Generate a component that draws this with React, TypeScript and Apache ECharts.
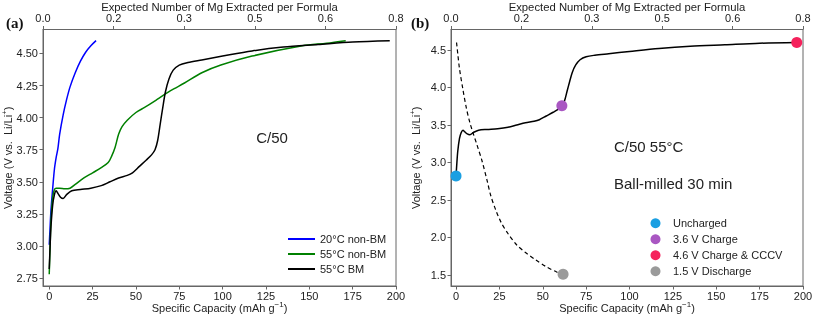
import React, { useEffect, useRef } from "react";
import * as echarts from "echarts";

// ---------- data ----------
const CAPACITY_TICKS = [0, 25, 50, 75, 100, 125, 150, 175, 200];
const VOLT_TICKS_A = [2.75, 3.0, 3.25, 3.5, 3.75, 4.0, 4.25, 4.5];
const VOLT_TICKS_B = [1.5, 2.0, 2.5, 3.0, 3.5, 4.0, 4.5];
const TOP_TICK_LABELS = ["0.0", "0.2", "0.3", "0.5", "0.6", "0.8"];

// [specific capacity (mAh/g), voltage (V)]
const BLUE_20C_NONBM: number[][] = [
  [0, 3.01], [0.5, 3.15], [1, 3.28], [2, 3.45], [3, 3.6], [4, 3.69], [5, 3.76],
  [6, 3.87], [8, 4.02], [10, 4.14], [12, 4.24], [15, 4.35], [18, 4.44],
  [21, 4.51], [24, 4.56], [27, 4.6],
];
const GREEN_55C_NONBM: number[][] = [
  [0, 2.78], [0.5, 3.0], [1, 3.2], [2, 3.38], [3, 3.44], [4, 3.45], [6, 3.45],
  [9, 3.445], [12, 3.45], [15, 3.48], [20, 3.53], [25, 3.57], [30, 3.61],
  [34, 3.65], [36, 3.7], [38, 3.77], [40, 3.87], [42, 3.93], [45, 3.98],
  [50, 4.04], [55, 4.08], [62, 4.14], [70, 4.21], [78, 4.27], [88, 4.35],
  [99, 4.41], [117, 4.48], [146, 4.56], [160, 4.58], [171, 4.6],
];
const BLACK_55C_BM: number[][] = [
  [0, 2.82], [0.5, 3.0], [1, 3.15], [2, 3.32], [3, 3.4], [4, 3.43], [5, 3.41],
  [6.5, 3.38], [8, 3.37], [10, 3.4], [13, 3.43], [18, 3.44], [24, 3.45],
  [30, 3.47], [35, 3.5], [40, 3.53], [45, 3.55], [48, 3.57], [52, 3.62],
  [56, 3.67], [59, 3.71], [61, 3.75], [62.5, 3.82], [64, 3.95], [65.5, 4.08],
  [67, 4.2], [69, 4.3], [71.5, 4.37], [75, 4.41], [80, 4.43], [88, 4.45],
  [100, 4.48], [117, 4.52], [135, 4.55], [155, 4.57], [175, 4.59], [196.4, 4.6],
];
const DISCHARGE_1_5V: number[][] = [
  [0.3, 4.6], [1, 4.45], [2, 4.25], [4, 3.97], [6, 3.72], [8, 3.53], [10, 3.38],
  [12, 3.24], [15, 3.02], [18, 2.75], [20, 2.56], [23, 2.36], [26, 2.2],
  [30, 2.05], [35, 1.9], [40, 1.8], [46, 1.7], [52, 1.61], [58, 1.54], [61.7, 1.51],
];
const PT_UNCHARGED = [0, 2.82];
const PT_CHARGE_36 = [61, 3.757];
const PT_CHARGE_46 = [196.4, 4.6];
const PT_DISCHARGE_15 = [61.7, 1.51];

const AXIS = "#666";
const TXT = "#222";
const FONT = "'Liberation Sans', Arial, sans-serif";

const nameStyle = {
  fontSize: 11,
  color: TXT,
  fontFamily: FONT,
  lineHeight: 16,
  rich: {
    sup: { fontSize: 8, verticalAlign: "top", lineHeight: 8, color: TXT, fontFamily: FONT },
  },
};

function capAxis(gridIndex: number, min: number) {
  return {
    type: "value",
    gridIndex,
    min,
    max: 200,
    position: "bottom",
    axisLine: { show: true, onZero: false, lineStyle: { color: AXIS } },
    axisTick: { show: true, length: 3.5, customValues: CAPACITY_TICKS, lineStyle: { color: AXIS } },
    axisLabel: { customValues: CAPACITY_TICKS, fontSize: 11, color: TXT, margin: 4, fontFamily: FONT },
    splitLine: { show: false },
    name: "Specific Capacity (mAh g{sup|−1})",
    nameLocation: "middle",
    nameGap: 14,
    nameMoveOverlap: false,
    nameTextStyle: nameStyle,
  };
}

function topAxis(gridIndex: number) {
  return {
    type: "value",
    gridIndex,
    min: 0,
    max: TOP_TICK_LABELS.length - 1,
    interval: 1,
    position: "top",
    axisLine: { show: true, onZero: false, lineStyle: { color: AXIS } },
    axisTick: { show: true, length: 3.5, lineStyle: { color: AXIS } },
    axisLabel: {
      fontSize: 11,
      color: TXT,
      margin: 6,
      fontFamily: FONT,
      formatter: (v: number) => TOP_TICK_LABELS[Math.round(v)] ?? "",
    },
    splitLine: { show: false },
    name: "Expected Number of Mg Extracted per Formula",
    nameLocation: "middle",
    nameGap: 17,
    nameMoveOverlap: false,
    nameTextStyle: { fontSize: 11.3, color: TXT, fontFamily: FONT },
  };
}

function voltAxis(gridIndex: number, min: number, max: number, ticks: number[], digits: number) {
  return {
    type: "value",
    gridIndex,
    min,
    max,
    axisLine: { show: true, onZero: false, lineStyle: { color: AXIS } },
    axisTick: { show: true, length: 3.5, customValues: ticks, lineStyle: { color: AXIS } },
    axisLabel: {
      customValues: ticks,
      fontSize: 11,
      color: TXT,
      margin: 5,
      fontFamily: FONT,
      formatter: (v: number) => v.toFixed(digits),
    },
    splitLine: { show: false },
    name: "Voltage (V vs.  Li/Li{sup|+})",
    nameLocation: "middle",
    nameGap: 27,
    nameMoveOverlap: false,
    nameTextStyle: nameStyle,
  };
}

export default function App() {
  const ref = useRef<HTMLDivElement>(null);
  useEffect(() => {
    if (!ref.current) return;
    const chart = echarts.init(ref.current, undefined, { renderer: "svg" });
    const lineBase = { type: "line", showSymbol: false, symbol: "none", smooth: 0.3, z: 3 };
    const scatterBase = { type: "scatter", xAxisIndex: 2, yAxisIndex: 1, symbolSize: 11, z: 5 };
    chart.setOption({
      animation: false,
      textStyle: { fontFamily: FONT },
      grid: [
        { left: 43, top: 29.5, width: 353, height: 256.5, show: true, borderColor: AXIS, borderWidth: 1, containLabel: false, outerBoundsMode: "none" },
        { left: 451, top: 29.5, width: 352, height: 256.5, show: true, borderColor: AXIS, borderWidth: 1, containLabel: false, outerBoundsMode: "none" },
      ],
      xAxis: [capAxis(0, -3.6), topAxis(0), capAxis(1, -2.9), topAxis(1)],
      yAxis: [
        voltAxis(0, 2.688, 4.687, VOLT_TICKS_A, 2),
        voltAxis(1, 1.353, 4.773, VOLT_TICKS_B, 1),
      ],
      legend: [
        {
          data: ["20°C non-BM", "55°C non-BM", "55°C BM"],
          orient: "vertical",
          left: 288,
          top: 231.5,
          padding: 0,
          icon: "rect",
          itemWidth: 27,
          itemHeight: 2,
          itemGap: 0,
          selectedMode: false,
          textStyle: { fontSize: 11, lineHeight: 15, color: TXT, fontFamily: FONT },
        },
        {
          data: ["Uncharged", "3.6 V Charge", "4.6 V Charge & CCCV", "1.5 V Discharge"],
          orient: "vertical",
          left: 650.5,
          top: 215.5,
          padding: 0,
          icon: "circle",
          itemWidth: 25,
          itemHeight: 10,
          itemGap: 0.5,
          selectedMode: false,
          textStyle: { fontSize: 11, lineHeight: 15.5, color: TXT, fontFamily: FONT },
        },
      ],
      series: [
        { ...lineBase, name: "20°C non-BM", xAxisIndex: 0, yAxisIndex: 0, data: BLUE_20C_NONBM, color: "#0000ff", lineStyle: { color: "#0000ff", width: 1.5 } },
        { ...lineBase, name: "55°C non-BM", xAxisIndex: 0, yAxisIndex: 0, data: GREEN_55C_NONBM, color: "#008000", lineStyle: { color: "#008000", width: 1.5 } },
        { ...lineBase, name: "55°C BM", xAxisIndex: 0, yAxisIndex: 0, data: BLACK_55C_BM, color: "#000000", lineStyle: { color: "#000000", width: 1.5 } },
        { ...lineBase, name: "55°C BM charge (b)", xAxisIndex: 2, yAxisIndex: 1, data: BLACK_55C_BM, color: "#000000", lineStyle: { color: "#000000", width: 1.5 } },
        { ...lineBase, name: "1.5 V discharge curve", xAxisIndex: 2, yAxisIndex: 1, data: DISCHARGE_1_5V, color: "#000000", lineStyle: { color: "#000000", width: 1.2, type: [4, 3] } },
        { ...scatterBase, name: "Uncharged", data: [PT_UNCHARGED], itemStyle: { color: "#1a9fe2", opacity: 1 } },
        { ...scatterBase, name: "3.6 V Charge", data: [PT_CHARGE_36], itemStyle: { color: "#a957c2", opacity: 1 } },
        { ...scatterBase, name: "4.6 V Charge & CCCV", data: [PT_CHARGE_46], itemStyle: { color: "#f5225c", opacity: 1 } },
        { ...scatterBase, name: "1.5 V Discharge", data: [PT_DISCHARGE_15], itemStyle: { color: "#9a9a9a", opacity: 1 } },
      ],
      graphic: [
        { type: "text", left: 6, top: 15, style: { text: "(a)", font: "bold 15px 'Liberation Serif', 'DejaVu Serif', serif", fill: "#111" } },
        { type: "text", left: 411, top: 15, style: { text: "(b)", font: "bold 15px 'Liberation Serif', 'DejaVu Serif', serif", fill: "#111" } },
        { type: "text", x: 272, y: 137, style: { text: "C/50", font: "15px 'Liberation Sans', Arial, sans-serif", fill: TXT, align: "center", verticalAlign: "middle" } },
        { type: "text", x: 614, y: 146, style: { text: "C/50 55°C", font: "15px 'Liberation Sans', Arial, sans-serif", fill: TXT, align: "left", verticalAlign: "middle" } },
        { type: "text", x: 614, y: 183, style: { text: "Ball-milled 30 min", font: "15px 'Liberation Sans', Arial, sans-serif", fill: TXT, align: "left", verticalAlign: "middle" } },
      ],
    });
    return () => chart.dispose();
  }, []);
  return <div ref={ref} style={{ position: "fixed", left: 0, top: 0, width: 813, height: 319 }} />;
}
